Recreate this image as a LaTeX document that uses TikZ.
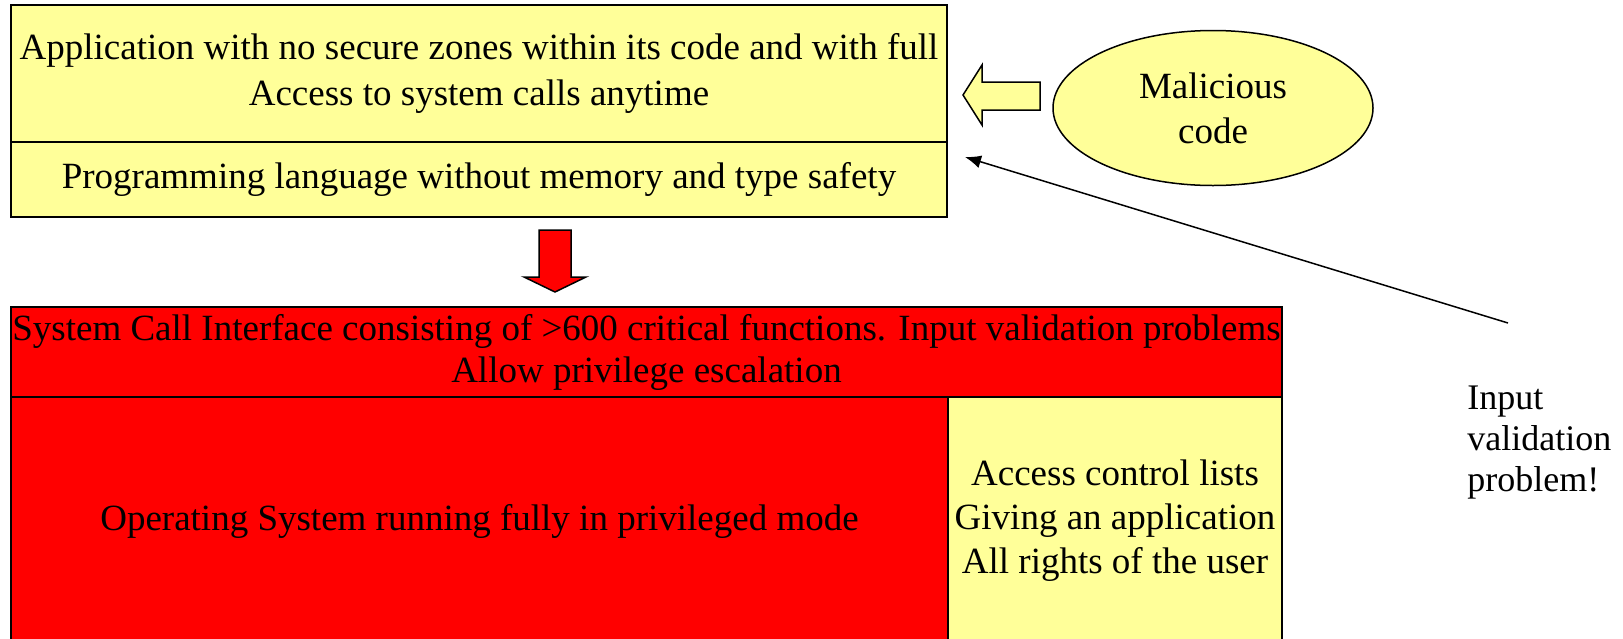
\documentclass[tikz,border=0pt]{standalone}
\usepackage{fontspec}
\setmainfont{Liberation Serif}
\usetikzlibrary{arrows.meta,shapes.geometric}
\definecolor{keltainen}{HTML}{FFFF99}
\definecolor{punainen}{HTML}{FF0000}
\begin{document}
\begin{tikzpicture}[x=0.5pt,y=-0.5pt,
  laatikko/.style={draw,line width=0.75pt,inner sep=0pt,align=center,
    font=\fontsize{18.5}{23}\selectfont},
  kelta/.style={laatikko,fill=keltainen},
  puna/.style={laatikko,fill=punainen}]
\clip (0,0) rectangle (1623,638);
\node[kelta,minimum width=468pt,minimum height=68.5pt] (app) at (479,73.5)
  {Application with no secure zones within its code and with full\\Access to system calls anytime};
\node[kelta,minimum width=468pt,minimum height=37.5pt] (prog) at (479,179.5)
  {Programming language without memory and type safety};
\node[puna,minimum width=635.5pt,minimum height=45pt,font=\fontsize{18.5}{21}\selectfont] (sci) at (646.5,352)
  {System Call Interface consisting of >600 critical functions. Input validation problems\\Allow privilege escalation};
\node[puna,minimum width=468.5pt,minimum height=124pt] (os) at (479.5,521)
  {Operating System running fully in privileged mode};
\node[kelta,minimum width=167pt,minimum height=124pt,font=\fontsize{18.5}{22}\selectfont] (acl) at (1115,521)
  {Access control lists\\Giving an application\\All rights of the user};
\node[kelta,ellipse,minimum width=160pt,minimum height=77.5pt,font=\fontsize{18.5}{22.5}\selectfont] (mal) at (1213,108)
  {Malicious\\code};
\node[align=left,inner sep=0pt,anchor=west,font=\fontsize{18}{20.5}\selectfont] (note) at (1467,443)
  {Input\\validation\\problem!};
\draw[line width=0.75pt,fill=keltainen] (963,95) -- (982,65) -- (982,82) -- (1040,82)
  -- (1040,110) -- (982,110) -- (982,125) -- cycle;
\draw[line width=0.75pt,fill=punainen] (539,230) -- (571,230) -- (571,277) -- (586,277)
  -- (555,292) -- (524,277) -- (539,277) -- cycle;
\coordinate (vsrc) at (1508,323);
\coordinate (vtip) at (965,157);
\draw[line width=0.75pt,-{Latex[length=8pt,width=6.5pt]}] (vsrc) -- (vtip);
\end{tikzpicture}
\end{document}
